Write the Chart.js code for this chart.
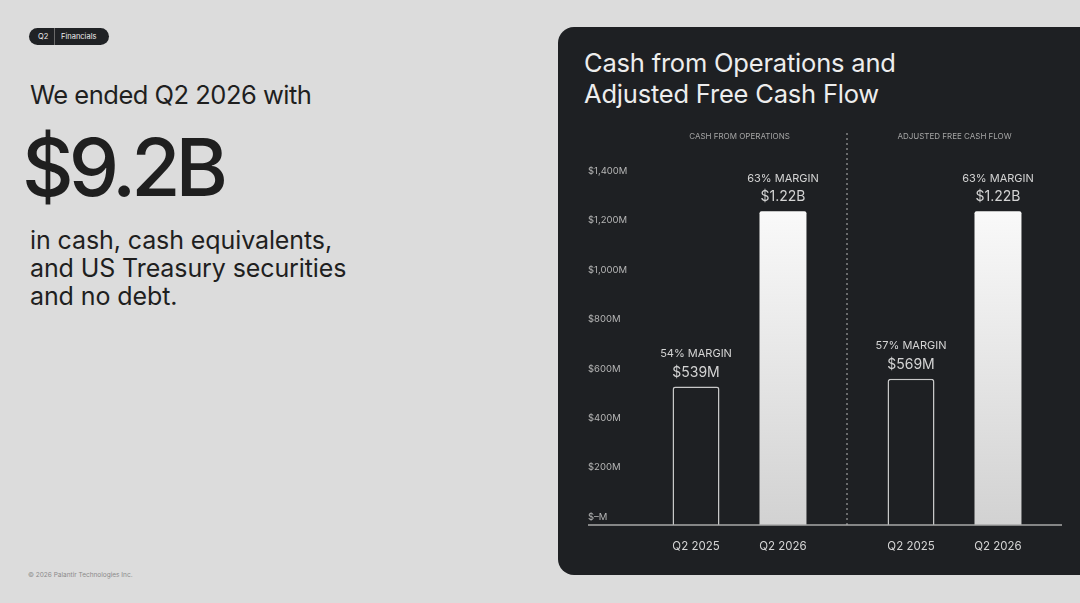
<!DOCTYPE html>
<html>
<head>
<meta charset="utf-8">
<title>Cash from Operations and Adjusted Free Cash Flow</title>
<script src="https://cdn.jsdelivr.net/npm/chart.js@4.4.1/dist/chart.umd.min.js"></script>
<style>
  body { margin:0; width:1080px; height:603px; background:#dcdcdc; overflow:hidden; position:relative;
         font-family: Inter, "Noto Sans", sans-serif; color:#1f1f1f; }
  .abs { position:absolute; white-space:nowrap; }
  .badge { left:29px; top:28px; width:80px; height:17px; border-radius:9px; background:#202225; color:#eee;
           font-size:7.5px; line-height:17px; }
  .badge .q { position:absolute; left:9px; }
  .badge .sep { position:absolute; left:25px; top:0; width:1px; height:17px; background:#6a6a6a; }
  .badge .f { position:absolute; left:32px; }
  .lead { left:30px; top:82px; font-size:25.5px; line-height:26px; letter-spacing:-0.5px; }
  .big { left:22px; top:127px; font-size:80px; line-height:80px; letter-spacing:-5px; font-weight:500; }
  .body { left:30px; top:226px; font-size:25px; line-height:28px; letter-spacing:-0.1px; }
  .foot { left:28px; top:572px; font-size:6.5px; line-height:6.5px; color:#8a8a8a; }
  .panel { left:558px; top:27px; width:560px; height:548px; border-radius:16px; background:#1e2023; }
  .title { left:584px; top:47px; font-size:25.5px; line-height:31px; color:#ededed; letter-spacing:-0.2px; }
  .chart { left:560px; top:120px; width:520px; height:440px; }
</style>
</head>
<body>
<div class="abs badge"><span class="q">Q2</span><span class="sep"></span><span class="f">Financials</span></div>
<div class="abs lead">We ended Q2 2026 with</div>
<div class="abs big">$9.2B</div>
<div class="abs body">in cash, cash equivalents,<br>and US Treasury securities<br>and no debt.</div>
<div class="abs foot">© 2026 Palantir Technologies Inc.</div>

<div class="abs panel"></div>
<div class="abs title">Cash from Operations and<br>Adjusted Free Cash Flow</div>
<div class="abs chart"><canvas id="chart1" width="520" height="440"></canvas></div>

<script>
// values, in $M
var groups = ['CASH FROM OPERATIONS', 'ADJUSTED FREE CASH FLOW']
var periods = ['Q2 2025', 'Q2 2026']
var prevYear = [539, 569]
var thisYear = [1220, 1220]
var prevYearText = ['$539M', '$569M']
var thisYearText = ['$1.22B', '$1.22B']
var prevMargin = ['54% MARGIN', '57% MARGIN']
var thisMargin = ['63% MARGIN', '63% MARGIN']
var yTicks = [0, 200, 400, 600, 800, 1000, 1200, 1400]
var yTickLabels = ['$\u2013M', '$200M', '$400M', '$600M', '$800M', '$1,000M', '$1,200M', '$1,400M']

var panelColor = '#1e2023'

function whiteFade(context){
  var chart = context.chart
  var area = chart.chartArea
  if (!area) return '#eeeeee'
  var g = chart.ctx.createLinearGradient(0, area.top, 0, area.bottom)
  g.addColorStop(0, '#ffffff')
  g.addColorStop(1, '#d2d2d2')
  return g
}

// baseline, dotted split and the text around each bar
var barNotes = {
  id: 'barNotes',
  afterDatasetsDraw: function(chart){
    var ctx = chart.ctx
    var x = chart.scales.x
    var y = chart.scales.y
    var zero = y.getPixelForValue(0)
    ctx.save()
    ctx.strokeStyle = '#a8a8a8'
    ctx.lineWidth = 1.5
    ctx.beginPath()
    ctx.moveTo(chart.scales.yl.left, zero)
    ctx.lineTo(chart.chartArea.right, zero)
    ctx.stroke()

    var mid = (x.getPixelForTick(0) + x.getPixelForTick(1)) / 2
    ctx.setLineDash([2, 3])
    ctx.lineWidth = 1
    ctx.strokeStyle = '#b4b4b4'
    ctx.beginPath()
    ctx.moveTo(mid, chart.chartArea.top - 32)
    ctx.lineTo(mid, zero)
    ctx.stroke()
    ctx.setLineDash([])

    var notes = [[prevMargin, prevYearText], [thisMargin, thisYearText]]
    ctx.textAlign = 'center'
    ctx.textBaseline = 'middle'
    ctx.fillStyle = '#d4d4d4'
    chart.data.datasets.forEach(function(ds, d){
      chart.getDatasetMeta(d).data.forEach(function(bar, i){
        ctx.font = '11px Inter'
        ctx.fillText(notes[d][0][i], bar.x, bar.y - 33)
        ctx.font = '14px Inter'
        ctx.fillText(notes[d][1][i], bar.x, bar.y - 14)
        ctx.font = '11.5px Inter'
        ctx.fillText(ds.label, bar.x, zero + 22)
      })
    })
    ctx.restore()
  }
}

function buildChart(){
  const ctx = document.getElementById('chart1')
  new Chart(ctx, {
    type: 'bar',
    data: {
      labels: groups,
      datasets: [{
        label: periods[0],
        data: prevYear,
        backgroundColor: panelColor,
        borderColor: '#c8c8c8',
        borderWidth: 1.5,
        borderRadius: {topLeft: 3, topRight: 3},
        borderSkipped: 'bottom',
        categoryPercentage: 0.809,
        barPercentage: 0.54
      }, {
        label: periods[1],
        data: thisYear,
        backgroundColor: whiteFade,
        borderWidth: 0,
        borderRadius: {topLeft: 2, topRight: 2},
        borderSkipped: 'bottom',
        categoryPercentage: 0.809,
        barPercentage: 0.54
      }]
    },
    options: {
      responsive: false,
      animation: false,
      layout: {padding: {left: 28, right: 18, top: 0, bottom: 35}},
      plugins: {legend: {display: false}, tooltip: {enabled: false}},
      scales: {
        x: {display: false},
        x2: {
          type: 'category',
          labels: groups,
          position: 'top',
          offset: true,
          grid: {display: false, drawTicks: false},
          border: {display: false},
          ticks: {color: '#a5a5a5', font: {family: 'Inter', size: 8}, padding: 24, maxRotation: 0, autoSkip: false},
          afterFit: function(s){ s.height = 45 }
        },
        // bars are measured on this one
        y: {display: false, min: 0, max: 1400},
        // the slide spaces its tick labels a little tighter than the bars
        yl: {
          position: 'left',
          min: -32,
          max: 1424,
          afterBuildTicks: function(s){ s.ticks = yTicks.map(function(v){ return {value: v} }) },
          afterFit: function(s){ s.width = 44 },
          grid: {display: false},
          border: {display: false},
          ticks: {
            callback: function(v, i){ return yTickLabels[i] },
            crossAlign: 'far',
            padding: 0,
            color: '#b6b6b6',
            font: {family: 'Inter', size: 9.5}
          }
        }
      }
    },
    plugins: [barNotes]
  })
}

buildChart()
</script>
</body>
</html>
